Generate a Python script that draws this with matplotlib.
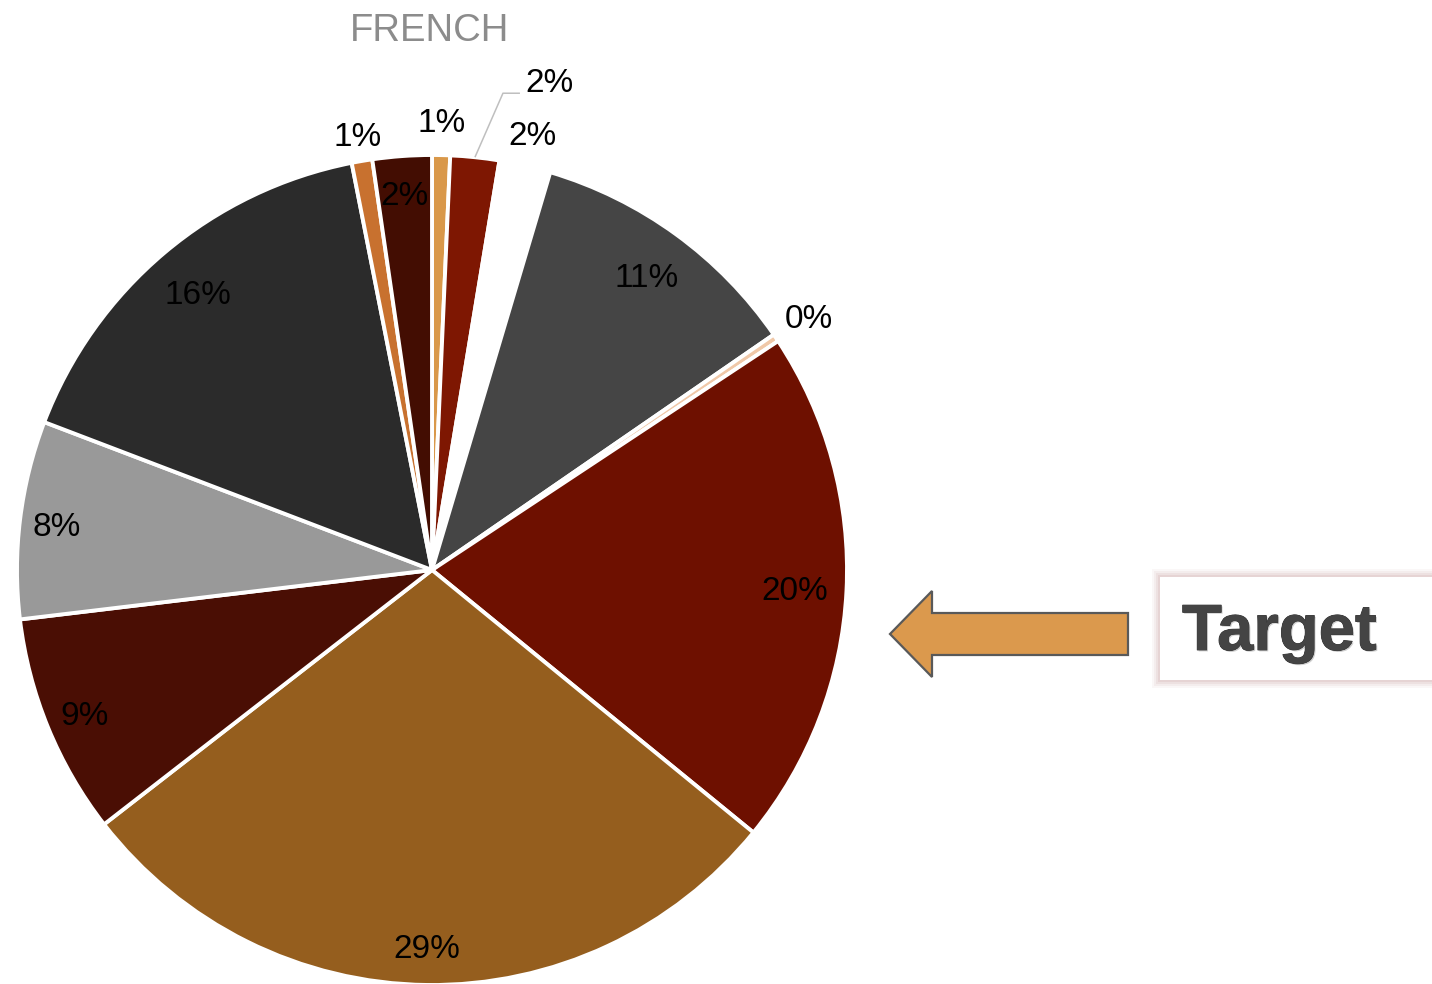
import numpy as np
import matplotlib
matplotlib.use("Agg")
import matplotlib.pyplot as plt
from matplotlib.patches import Rectangle, Polygon
import matplotlib.patheffects as pe

plt.rcParams['font.family'] = ['Liberation Sans', 'DejaVu Sans']

# Share of each segment (percent), clockwise from 12 o'clock
values = [0.7, 1.9, 2.0, 10.8, 0.3, 20.2, 28.6, 8.6, 7.7, 16.1, 0.8, 2.3]
labels = [f"{round(v):.0f}%" for v in values]
colors = ['#d9984a', '#7e1702', '#ffffff', '#454545', '#f0c8a8', '#6e1000',
          '#955e1e', '#4a0e04', '#999999', '#2b2b2b', '#c8712f', '#430d02']
title = "FRENCH"
callout = "Target"

W, H = 1432, 984
fig = plt.figure(figsize=(W / 100, H / 100), dpi=100)
ax = fig.add_axes([0, 0, 1, 1])

cx, cy, R = 432, H - 570, 415
wedges, _ = ax.pie(values, colors=colors, startangle=90, counterclock=False,
                   center=(cx, cy), radius=R, frame=True,
                   wedgeprops=dict(edgecolor='white', linewidth=2.8))
ax.set_xlim(0, W)
ax.set_ylim(0, H)
ax.set_aspect('equal')
ax.axis('off')

# radial placement of each label (fraction of radius); None = leader-line label
label_r = [1.085, None, 1.08, 0.88, 1.095, 0.875, 0.905, 0.905, 0.91, 0.875, 1.065, 0.91]
for w, lab, lr in zip(wedges, labels, label_r):
    mid = np.deg2rad((w.theta1 + w.theta2) / 2)
    if lr is None:
        sx, sy = cx + R * np.cos(mid), cy + R * np.sin(mid)
        ex, ey = sx + 28, sy + 64
        fx = ex + 17
        ax.plot([sx, ex, fx], [sy, ey, ey], color='#bfbfbf', lw=1.1,
                solid_capstyle='butt')
        ax.text(fx + 5, ey + 13, lab, fontsize=24, color='black',
                ha='left', va='center_baseline')
    else:
        ax.text(cx + lr * R * np.cos(mid), cy + lr * R * np.sin(mid), lab,
                fontsize=24, color='black', ha='center', va='center_baseline')

ax.text(430, H - 27, title, fontsize=27.5, color='#8c8c8c',
        ha='center', va='center_baseline')

# arrow pointing at the chart
arrow = Polygon([(890, H - 634), (932, H - 591), (932, H - 613), (1128, H - 613),
                 (1128, H - 655), (932, H - 655), (932, H - 677)],
                closed=True, facecolor='#db994d', edgecolor='#595959', lw=1.6)
ax.add_patch(arrow)

# callout box with soft shadow
for i, a in enumerate([0.05, 0.07, 0.09, 0.11]):
    d = 8 - 2 * i
    ax.add_patch(Rectangle((1160 - d, H - 680 - d), 300, 103 + 2 * d,
                           facecolor='#b07070', edgecolor='none', alpha=a))
ax.add_patch(Rectangle((1160, H - 680), 300, 103, facecolor='white',
                       edgecolor='none'))
ax.text(1182, H - 650, callout, fontsize=47, fontweight='bold', color='#444444',
        ha='left', va='baseline',
        path_effects=[pe.withSimplePatchShadow(offset=(1, -1),
                                               shadow_rgbFace='#b0b0b0', alpha=0.6),
                      pe.Stroke(linewidth=0.6, foreground='#333333'),
                      pe.Normal()])

fig.savefig('out.png', dpi=100)
